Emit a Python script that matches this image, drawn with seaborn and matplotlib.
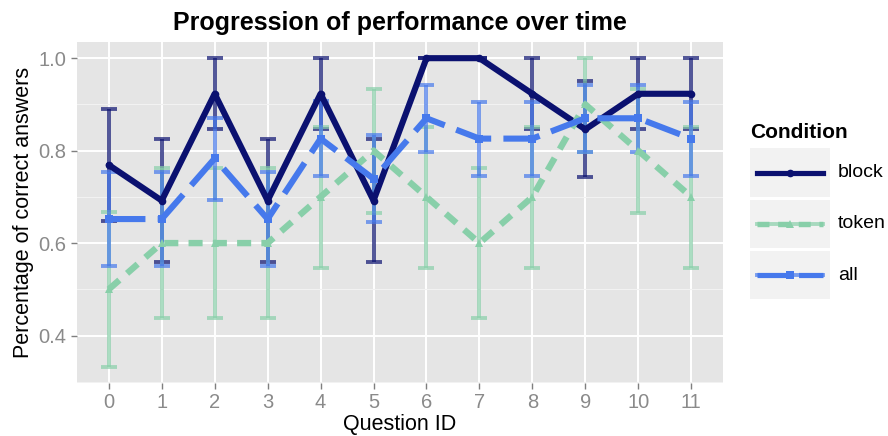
import pandas as pd
import numpy as np
import matplotlib.pyplot as plt
import seaborn as sn
from matplotlib.patches import Rectangle
from matplotlib.lines import Line2D


# data

questions = list(range(12))

conditions = ['block', 'token', 'all']

block_mean = [0.769, 0.692, 0.923, 0.692, 0.923, 0.692, 1.0, 1.0, 0.923, 0.846, 0.923, 0.923]
block_lo = [0.648, 0.559, 0.846, 0.559, 0.846, 0.559, 1.0, 1.0, 0.846, 0.742, 0.846, 0.846]
block_hi = [0.890, 0.825, 1.0, 0.825, 1.0, 0.825, 1.0, 1.0, 1.0, 0.950, 1.0, 1.0]

token_mean = [0.5, 0.6, 0.6, 0.6, 0.7, 0.8, 0.7, 0.6, 0.7, 0.9, 0.8, 0.7]
token_lo = [0.333, 0.437, 0.437, 0.437, 0.547, 0.666, 0.547, 0.437, 0.547, 0.797, 0.666, 0.547]
token_hi = [0.667, 0.763, 0.763, 0.763, 0.852, 0.933, 0.852, 0.763, 0.852, 1.0, 0.933, 0.852]

all_mean = [0.652, 0.652, 0.783, 0.652, 0.826, 0.739, 0.870, 0.826, 0.826, 0.870, 0.870, 0.826]
all_lo = [0.550, 0.550, 0.694, 0.550, 0.745, 0.645, 0.797, 0.745, 0.745, 0.797, 0.797, 0.745]
all_hi = [0.754, 0.754, 0.870, 0.754, 0.908, 0.834, 0.942, 0.906, 0.906, 0.942, 0.942, 0.906]

means = {'block': block_mean, 'token': token_mean, 'all': all_mean}
lows = {'block': block_lo, 'token': token_lo, 'all': all_lo}
highs = {'block': block_hi, 'token': token_hi, 'all': all_hi}

colors = {'block': '#0b1170', 'token': '#88cfa9', 'all': '#4679ec'}
dashes = {'block': '', 'token': (2.2, 1.6), 'all': (6.0, 2.0)}
markers = {'block': 'o', 'token': '^', 'all': 's'}
widths = {'block': 4.4, 'token': 4.6, 'all': 4.4}

df = pd.DataFrame({
    'question': questions * 3,
    'correct': block_mean + token_mean + all_mean,
    'Condition': ['block'] * 12 + ['token'] * 12 + ['all'] * 12
})


plt.rcParams['font.family'] = ['Liberation Sans', 'DejaVu Sans']

fig = plt.figure(figsize=(8.88, 4.36), dpi=100)

ax = fig.add_axes([77 / 888, 1 - 382.7 / 436, (723 - 77) / 888, (382.7 - 42) / 436])

ax.set_facecolor('#e5e5e5')

# error bars first, under the lines

for cond in conditions:

    m = np.array(means[cond])

    yerr = [m - np.array(lows[cond]), np.array(highs[cond]) - m]

    ax.errorbar(questions, m, yerr=yerr, fmt='none', ecolor=colors[cond],
                alpha=0.7, elinewidth=2.8, capsize=5.8, capthick=2.8, zorder=2)

for cond in conditions:

    sub = df[df['Condition'] == cond]

    sn.lineplot(data=sub, x='question', y='correct', color=colors[cond],
                marker=markers[cond], markersize=5.5, markeredgewidth=0,
                linewidth=widths[cond], ax=ax, legend=False, zorder=3,
                solid_capstyle='round')

    line = ax.lines[-1]

    if dashes[cond]:
        line.set_dashes(dashes[cond])

ax.set_xlim(-0.6, 11.6)

ax.set_ylim(0.298, 1.035)

ax.set_xticks(questions)

ax.set_yticks([0.4, 0.6, 0.8, 1.0])

ax.set_yticklabels(['0.4', '0.6', '0.8', '1.0'])

ax.set_yticks([0.3, 0.5, 0.7, 0.9], minor=True)

ax.grid(which='major', color='white', linewidth=1.4, zorder=0)

ax.grid(which='minor', axis='y', color='#f2f2f2', linewidth=0.8, zorder=0)

ax.set_axisbelow(True)

for s in ax.spines.values():
    s.set_visible(False)

ax.tick_params(axis='both', which='major', colors='#7f7f7f', labelcolor='#8a8a8a',
               labelsize=14.5, length=4, width=1)

ax.tick_params(axis='both', which='minor', length=0)

ax.set_xlabel('Question ID', fontsize=15.5, labelpad=1)

ax.set_ylabel('Percentage of correct answers', fontsize=15.5, labelpad=3)

ax.set_title('Progression of performance over time', fontsize=18, fontweight='bold', pad=9)


# legend with grey key boxes like ggplot

lax = fig.add_axes([750 / 888, 1 - 299 / 436, 80 / 888, (299 - 148) / 436])

lax.set_xlim(0, 80)

lax.set_ylim(299, 148)

lax.axis('off')

rows = [(148, 197), (199.5, 248), (251, 299)]

for cond, (top, bot) in zip(conditions, rows):

    lax.add_patch(Rectangle((0, top), 80, bot - top, color='#f2f2f2', lw=0))

    yc = (top + bot) / 2

    lax.add_line(Line2D([7, 73], [yc, yc], color=colors[cond], alpha=0.7, lw=2.8))

    key = Line2D([7, 40, 73], [yc, yc, yc], color=colors[cond], lw=widths[cond] * 0.85,
                 marker=markers[cond], markevery=[1], markersize=5.5, markeredgewidth=0)

    if dashes[cond]:
        key.set_dashes(dashes[cond])

    lax.add_line(key)

    lax.text(88, yc, cond, fontsize=14, va='center', ha='left', clip_on=False)

lax.text(0, 132, 'Condition', fontsize=15, fontweight='bold', va='center', ha='left', clip_on=False)

plt.savefig('out.png', dpi=100)
